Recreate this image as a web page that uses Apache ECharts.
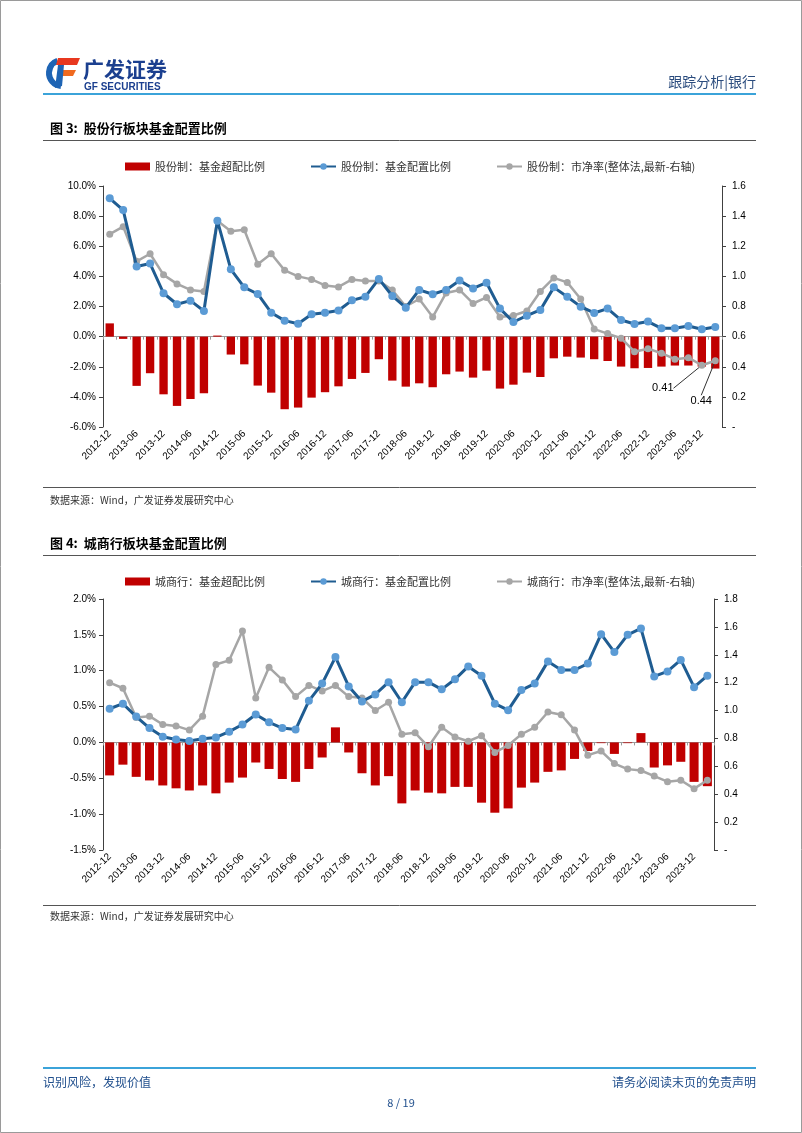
<!DOCTYPE html>
<html>
<head>
<meta charset="utf-8">
<script src="https://cdn.jsdelivr.net/npm/echarts@6/dist/echarts.min.js"></script>
<style>
html,body{margin:0;padding:0;background:#fff;}
#main{width:802px;height:1133px;}
</style>
</head>
<body>
<div id="main"></div>
<script>
// ---------- data ----------
const categories = ['2012-12','2013-03','2013-06','2013-09','2013-12','2014-03','2014-06','2014-09','2014-12','2015-03','2015-06','2015-09','2015-12','2016-03','2016-06','2016-09','2016-12','2017-03','2017-06','2017-09','2017-12','2018-03','2018-06','2018-09','2018-12','2019-03','2019-06','2019-09','2019-12','2020-03','2020-06','2020-09','2020-12','2021-03','2021-06','2021-09','2021-12','2022-03','2022-06','2022-09','2022-12','2023-03','2023-06','2023-09','2023-12','2024-03'];

// Chart 3: 股份行 (%, %, PB)
const jointOver = [0.88,-0.15,-3.27,-2.43,-3.83,-4.60,-4.14,-3.76,
  0.07,-1.19,-1.84,-3.25,-3.72,-4.82,-4.71,-4.05,
  -3.69,-3.30,-2.81,-2.41,-1.50,-2.92,-3.32,-3.10,
  -3.36,-2.50,-2.32,-2.72,-2.26,-3.45,-3.19,-2.39,
  -2.68,-1.44,-1.33,-1.39,-1.50,-1.62,-1.99,-2.10,
  -2.08,-1.99,-1.92,-1.92,-1.99,-2.12];
const jointAlloc = [9.18,8.40,4.65,4.85,2.88,2.15,2.39,1.70,
  7.70,4.47,3.27,2.83,1.59,1.06,0.86,1.48,
  1.59,1.73,2.41,2.65,3.83,2.70,1.92,3.10,
  2.81,3.10,3.72,3.20,3.58,1.86,0.97,1.39,
  1.77,3.27,2.65,1.99,1.57,1.86,1.10,0.84,
  1.00,0.55,0.55,0.71,0.49,0.64];
const jointPB = [1.28,1.33,1.10,1.15,1.01,0.95,0.91,0.90,
  1.37,1.30,1.31,1.08,1.15,1.04,1.00,0.98,
  0.94,0.93,0.98,0.97,0.97,0.91,0.80,0.85,
  0.73,0.89,0.91,0.82,0.86,0.73,0.74,0.77,
  0.90,0.99,0.96,0.85,0.65,0.62,0.59,0.50,
  0.52,0.49,0.45,0.46,0.41,0.44];

// Chart 4: 城商行 (%, %, PB)
const cityOver = [-0.46,-0.31,-0.48,-0.53,-0.60,-0.64,-0.67,-0.60,
  -0.71,-0.56,-0.49,-0.28,-0.37,-0.51,-0.55,-0.37,
  -0.21,0.21,-0.14,-0.43,-0.60,-0.47,-0.85,-0.67,
  -0.70,-0.71,-0.62,-0.62,-0.84,-0.98,-0.92,-0.63,
  -0.56,-0.41,-0.39,-0.23,-0.12,-0.01,-0.16,-0.01,
  0.13,-0.35,-0.32,-0.27,-0.55,-0.61];
const cityAlloc = [0.47,0.54,0.36,0.20,0.08,0.04,0.02,0.05,
  0.07,0.15,0.25,0.39,0.28,0.20,0.18,0.58,
  0.82,1.19,0.78,0.57,0.67,0.84,0.56,0.84,
  0.84,0.74,0.88,1.06,0.93,0.54,0.45,0.73,
  0.82,1.13,1.01,1.01,1.10,1.51,1.26,1.50,
  1.59,0.92,0.99,1.15,0.77,0.93];
const cityPB = [1.20,1.16,0.95,0.96,0.90,0.89,0.86,0.96,
  1.33,1.36,1.57,1.09,1.31,1.22,1.10,1.18,
  1.14,1.18,1.10,1.09,1.00,1.06,0.83,0.84,
  0.74,0.88,0.81,0.78,0.82,0.70,0.75,0.83,
  0.88,0.99,0.97,0.86,0.68,0.71,0.62,0.58,
  0.57,0.53,0.49,0.50,0.44,0.50];

const names1 = ['股份制：基金超配比例','股份制：基金配置比例','股份制：市净率(整体法,最新-右轴)'];
const names2 = ['城商行：基金超配比例','城商行：基金配置比例','城商行：市净率(整体法,最新-右轴)'];
const annotated1 = [44, 45];

// ---------- styles ----------
const CJK = '"Noto Sans CJK SC", "Noto Sans", sans-serif';
const LAT = '"Liberation Sans", Arial, sans-serif';
const RED = '#C00000', BLUE_LINE = '#1F5C91', BLUE_DOT = '#5B9BD5', GRAY = '#A6A6A6';

function xAxes(grid){
  return [
    { type:'category', gridIndex:grid, data:categories, position:'bottom',
      axisLine:{show:false, onZero:false}, axisTick:{show:false},
      axisLabel:{interval:1, rotate:45, fontSize:10, fontFamily:LAT, color:'#000', margin:5},
      splitLine:{show:false} },
    { type:'category', gridIndex:grid, data:categories, position:'bottom',
      axisLine:{show:true, onZero:true, onZeroAxisIndex:grid*2, lineStyle:{color:'#9a9a9a', width:1}},
      axisTick:{show:true, interval:0, length:3, lineStyle:{color:'#9a9a9a'}},
      axisLabel:{show:false}, splitLine:{show:false} }
  ];
}
function yLeft(grid, min, max, interval){
  return { type:'value', gridIndex:grid, position:'left', min, max, interval,
    axisLine:{show:true, lineStyle:{color:'#404040'}},
    axisTick:{show:true, length:4, lineStyle:{color:'#404040'}},
    axisLabel:{fontSize:10, fontFamily:LAT, color:'#000', margin:7,
      formatter:v=>v.toFixed(1)+'%'},
    splitLine:{show:false} };
}
function yRight(grid, max){
  return { type:'value', gridIndex:grid, position:'right', min:0, max, interval:0.2,
    axisLine:{show:true, lineStyle:{color:'#404040'}},
    axisTick:{show:true, length:4, lineStyle:{color:'#404040'}},
    axisLabel:{fontSize:10, fontFamily:LAT, color:'#000', margin:10,
      formatter:v=>Math.abs(v)<1e-9?'-':v.toFixed(1)},
    splitLine:{show:false} };
}
function seriesFor(names, over, alloc, pb, grid, barW, annotated){
  return [
    { name:names[0], type:'bar', xAxisIndex:grid*2, yAxisIndex:grid*2, data:over,
      barWidth:barW, itemStyle:{color:RED}, z:1 },
    { name:names[2], type:'line', xAxisIndex:grid*2, yAxisIndex:grid*2+1,
      data: pb.map((v,i)=> annotated.includes(i) ? {value:v, label:{show:true}} : v),
      symbol:'circle', symbolSize:7, lineStyle:{color:GRAY, width:2.5},
      itemStyle:{color:GRAY}, z:3,
      label:{show:false, position:'inside', fontSize:11, fontFamily:LAT, color:'#000',
        formatter:p=>Number(p.value).toFixed(2)},
      labelLine:{show:true, lineStyle:{color:'#333', width:1}},
      labelLayout: function(p){
        if (p.dataIndex===44) return {dx:-39, dy:23};
        if (p.dataIndex===45) return {dx:-14, dy:40};
        return {};
      } },
    { name:names[1], type:'line', xAxisIndex:grid*2, yAxisIndex:grid*2, data:alloc,
      symbol:'circle', symbolSize:8, lineStyle:{color:BLUE_LINE, width:3},
      itemStyle:{color:BLUE_DOT}, z:4 }
  ];
}
function legendFor(names, top){
  return { top, left:120, itemWidth:25, itemHeight:8, itemGap:45,
    textStyle:{fontSize:11, fontFamily:CJK, color:'#333'},
    data:[{name:names[0], icon:'rect', itemStyle:{color:RED}}, names[1], names[2]] };
}

// ---------- page decoration ----------
function txt(x, y, text, font, fill, align){
  return { type:'text', x, y, silent:true,
    style:{ text, font, fill, align:align||'left', verticalAlign:'middle',
      textAlign:align||'left', textVerticalAlign:'middle' } };
}
function hline(x1, x2, y, stroke, w){
  return { type:'line', silent:true, shape:{x1, y1:y, x2, y2:y}, style:{stroke, lineWidth:w} };
}
const graphics = [
  { type:'rect', silent:true, shape:{x:0.5, y:0.5, width:801, height:1132}, style:{fill:'none', stroke:'#9a9a9a', lineWidth:1} },
  // logo
  { type:'sector', silent:true, shape:{cx:62, cy:73, r:16, r0:10, startAngle:95*Math.PI/180, endAngle:250*Math.PI/180, clockwise:true}, style:{fill:'#1E64B4'} },
  { type:'polygon', silent:true, shape:{points:[[58,58],[80,58],[77,65],[56,65]]}, style:{fill:'#E8381F'} },
  { type:'polygon', silent:true, shape:{points:[[60,70],[76,70],[73,76],[58,76]]}, style:{fill:'#F06A1F'} },
  { type:'polygon', silent:true, shape:{points:[[58,65],[64,65],[62,86],[55,88]]}, style:{fill:'#1E64B4'} },
  txt(83, 69, '广发证券', 'bold 21px '+CJK, '#1B3F8F'),
  txt(84, 87, 'GF SECURITIES', 'bold 10px '+LAT, '#1B3F8F'),
  txt(756, 82, '跟踪分析|银行', '14px '+CJK, '#2B4C7E', 'right'),
  hline(43, 756, 94, '#3BA3D9', 2),
  // chart 3 frame
  txt(50, 128, '图 3:  股份行板块基金配置比例', 'bold 13px '+CJK, '#000'),
  hline(43, 756, 140.5, '#555', 1),
  hline(43, 756, 487.5, '#555', 1),
  txt(50, 500, '数据来源：Wind，广发证券发展研究中心', '10px '+CJK, '#333'),
  // chart 4 frame
  txt(50, 543, '图 4:  城商行板块基金配置比例', 'bold 13px '+CJK, '#000'),
  hline(43, 756, 555.5, '#555', 1),
  hline(43, 756, 905.5, '#555', 1),
  txt(50, 916, '数据来源：Wind，广发证券发展研究中心', '10px '+CJK, '#333'),
  // footer
  hline(43, 756, 1068, '#3BA3D9', 2),
  txt(43, 1082, '识别风险，发现价值', '12px '+CJK, '#1F4E8C'),
  txt(756, 1082, '请务必阅读末页的免责声明', '12px '+CJK, '#1F4E8C', 'right'),
  txt(401, 1103, '8 / 19', '11px '+CJK, '#1F4E8C', 'center')
];

const option = {
  animation:false,
  backgroundColor:'#fff',
  grid:[
    {left:103, top:186, width:619, height:241, containLabel:false, outerBoundsMode:'none'},
    {left:103, top:599, width:611, height:251, containLabel:false, outerBoundsMode:'none'}
  ],
  legend:[legendFor(names1, 156), legendFor(names2, 571)],
  xAxis:[...xAxes(0), ...xAxes(1)],
  yAxis:[yLeft(0,-6,10,2), yRight(0,1.6), yLeft(1,-1.5,2,0.5), yRight(1,1.8)],
  series:[
    ...seriesFor(names1, jointOver, jointAlloc, jointPB, 0, '62%', annotated1),
    ...seriesFor(names2, cityOver, cityAlloc, cityPB, 1, '68%', [])
  ],
  graphic:graphics
};

const chart = echarts.init(document.getElementById('main'), null, {renderer:'canvas'});
chart.setOption(option);
</script>
</body>
</html>
